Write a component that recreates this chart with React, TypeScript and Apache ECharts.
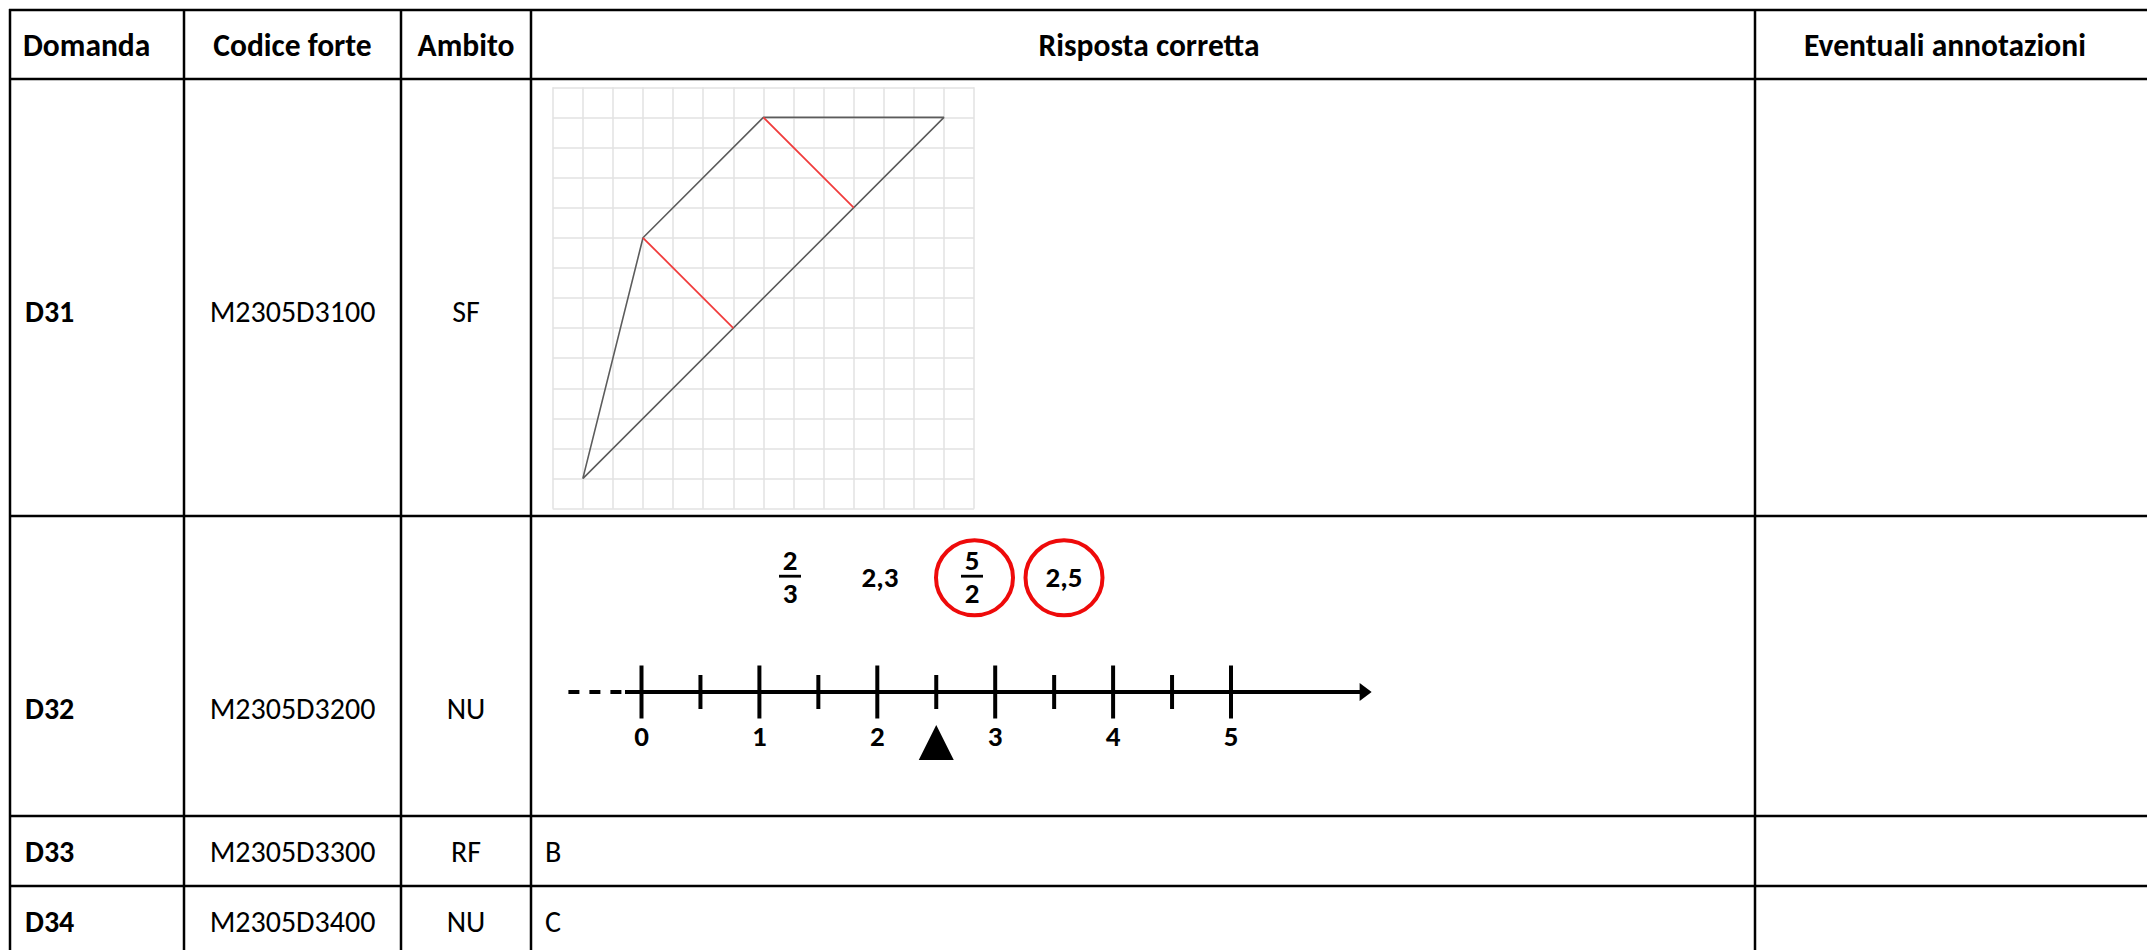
import React, { useEffect, useRef } from "react";
import * as echarts from "echarts";

// ---------- table content ----------
const headers = ["Domanda", "Codice forte", "Ambito", "Risposta corretta", "Eventuali annotazioni"];
const questions = ["D31", "D32", "D33", "D34"];
const codes = ["M2305D3100", "M2305D3200", "M2305D3300", "M2305D3400"];
const ambiti = ["SF", "NU", "RF", "NU"];
const answers = ["", "", "B", "C"];

// ---------- D31 figure (grid units, y counted from top) ----------
const outline = [[1, 13], [3, 5], [7, 1], [13, 1], [1, 13]];
const heightA = [[3, 5], [6, 8]];
const heightB = [[7, 1], [10, 4]];

// ---------- D32 number line ----------
const majorTicks = [0, 1, 2, 3, 4, 5];
const minorTicks = [0.5, 1.5, 2.5, 3.5, 4.5];
const markerValue = 2.5;
const axisFrom = -0.62;
const solidFrom = -0.14;
const arrowAt = 6.142;
const axisTo = 6.2;
const choiceLabels = ["2/3", "2,3", "5/2", "2,5"];
const choiceCircled = [false, false, true, true];

// ---------- layout ----------
const W = 2147;
const H = 950;
const colX = [10, 184, 401, 531, 1755];
const rowY = [10, 79, 516, 816, 886];
const rowTextY = [311, 708, 851, 921];
const choiceX = [790, 880, 972, 1064];
const circleX = [0, 0, 974.5, 1064];
const FONT = "Calibri, Carlito, Lato, sans-serif";
const ZERO_PX = 641.5;
const UNIT_PX = 117.9;
const DIGIT_SIZE = 29;

function txt(text: string, x: number, y: number, align: string, bold: boolean, size: number) {
  return {
    type: "text",
    silent: true,
    style: {
      text,
      x,
      y,
      align,
      verticalAlign: "middle",
      textAlign: align,
      textVerticalAlign: "middle",
      fontFamily: FONT,
      fontWeight: bold ? "bold" : "normal",
      fontSize: size,
      fill: "#000",
    },
  };
}

function buildGraphic() {
  const els: any[] = [];
  const lw = 2.5;
  rowY.forEach((y) => {
    els.push({ type: "line", silent: true, shape: { x1: colX[0] - 1, y1: y, x2: W, y2: y }, style: { stroke: "#000", lineWidth: lw } });
  });
  colX.forEach((x) => {
    els.push({ type: "line", silent: true, shape: { x1: x, y1: rowY[0] - 1, x2: x, y2: H }, style: { stroke: "#000", lineWidth: lw } });
  });
  const headerX = [23, (colX[1] + colX[2]) / 2, (colX[2] + colX[3]) / 2, 1149, 1945];
  headers.forEach((h, i) => els.push(txt(h, headerX[i], 44.5, i === 0 ? "left" : "center", true, 31.5)));
  questions.forEach((q, i) => {
    els.push(txt(q, 25, rowTextY[i], "left", true, 30));
    els.push(txt(codes[i], (colX[1] + colX[2]) / 2, rowTextY[i], "center", false, 30));
    els.push(txt(ambiti[i], (colX[2] + colX[3]) / 2, rowTextY[i], "center", false, 30));
    if (answers[i]) els.push(txt(answers[i], colX[3] + 14, rowTextY[i], "left", false, 30));
  });
  // choices above the number line
  choiceLabels.forEach((lab, i) => {
    const cx = choiceX[i];
    if (lab.includes("/")) {
      const [n, d] = lab.split("/");
      els.push(txt(n, cx, 560, "center", true, DIGIT_SIZE));
      els.push({ type: "rect", silent: true, shape: { x: cx - 11, y: 574.8, width: 22, height: 2.8 }, style: { fill: "#000" } });
      els.push(txt(d, cx, 592.5, "center", true, DIGIT_SIZE));
    } else {
      els.push(txt(lab, cx, 577, "center", true, DIGIT_SIZE));
    }
    if (choiceCircled[i]) {
      els.push({
        type: "ellipse", silent: true,
        shape: { cx: circleX[i], cy: 577.8, rx: 38.5, ry: 37.5 },
        style: { fill: "none", stroke: "#ee0a0a", lineWidth: 4 },
      });
    }
  });
  return els;
}

function buildOption() {
  const hiddenAxis = {
    axisLine: { show: false },
    axisTick: { show: false },
    axisLabel: { show: false },
  };
  const nlLeft = ZERO_PX + axisFrom * UNIT_PX;
  const nlWidth = (axisTo - axisFrom) * UNIT_PX;
  return {
    animation: false,
    backgroundColor: "#ffffff",
    grid: [
      { left: 552.7, top: 87.3, width: 421.4, height: 421.4 },
      { left: nlLeft, top: 592, width: nlWidth, height: 200 },
    ],
    xAxis: [
      {
        gridIndex: 0, type: "value", min: 0, max: 14, interval: 1, ...hiddenAxis,
        splitLine: { show: true, lineStyle: { color: "#e2e2e2", width: 1.5 } },
      },
      {
        gridIndex: 1, type: "value", min: axisFrom, max: axisTo, ...hiddenAxis,
        splitLine: { show: false },
      },
    ],
    yAxis: [
      {
        gridIndex: 0, type: "value", min: 0, max: 14, interval: 1, inverse: true, ...hiddenAxis,
        splitLine: { show: true, lineStyle: { color: "#e2e2e2", width: 1.5 } },
      },
      { gridIndex: 1, type: "value", min: -100, max: 100, show: false },
    ],
    series: [
      { type: "line", xAxisIndex: 0, yAxisIndex: 0, data: outline, symbol: "none", silent: true, lineStyle: { color: "#5c5c5c", width: 1.6 } },
      { type: "line", xAxisIndex: 0, yAxisIndex: 0, data: heightA, symbol: "none", silent: true, lineStyle: { color: "#f03c3c", width: 1.8 } },
      { type: "line", xAxisIndex: 0, yAxisIndex: 0, data: heightB, symbol: "none", silent: true, lineStyle: { color: "#f03c3c", width: 1.8 } },
      {
        type: "line", xAxisIndex: 1, yAxisIndex: 1, data: [[axisFrom, 0], [solidFrom, 0]],
        symbol: "none", silent: true, lineStyle: { color: "#000", width: 4, type: [11, 10] },
      },
      {
        type: "line", xAxisIndex: 1, yAxisIndex: 1, data: [[solidFrom, 0], [arrowAt, 0]],
        symbol: "none", silent: true, lineStyle: { color: "#000", width: 4 },
      },
      {
        type: "scatter", xAxisIndex: 1, yAxisIndex: 1, data: [[arrowAt, 0]], symbol: "triangle",
        symbolSize: [18, 12], symbolRotate: -90, silent: true, itemStyle: { color: "#000", opacity: 1 },
      },
      {
        type: "scatter", xAxisIndex: 1, yAxisIndex: 1, data: majorTicks.map((v) => [v, 0]), symbol: "rect",
        symbolSize: [4, 53], silent: true, itemStyle: { color: "#000", opacity: 1 },
        label: {
          show: true, position: "bottom", distance: 3, formatter: (p: any) => String(p.value[0]),
          fontFamily: FONT, fontWeight: "bold", fontSize: DIGIT_SIZE, color: "#000",
        },
      },
      {
        type: "scatter", xAxisIndex: 1, yAxisIndex: 1, data: minorTicks.map((v) => [v, 0]), symbol: "rect",
        symbolSize: [4, 34], silent: true, itemStyle: { color: "#000", opacity: 1 },
      },
      {
        type: "scatter", xAxisIndex: 1, yAxisIndex: 1, data: [[markerValue, -50.5]], symbol: "triangle",
        symbolSize: [35, 35], silent: true, itemStyle: { color: "#000", opacity: 1 },
      },
    ],
    graphic: buildGraphic(),
  };
}

export default function App() {
  const ref = useRef<HTMLDivElement>(null);
  useEffect(() => {
    if (!ref.current) return;
    const chart = echarts.init(ref.current, undefined, { renderer: "svg" });
    chart.setOption(buildOption() as any);
    return () => chart.dispose();
  }, []);
  return (
    <div
      ref={ref}
      style={{ position: "absolute", left: 0, top: 0, width: W, height: H, background: "#fff" }}
    />
  );
}
